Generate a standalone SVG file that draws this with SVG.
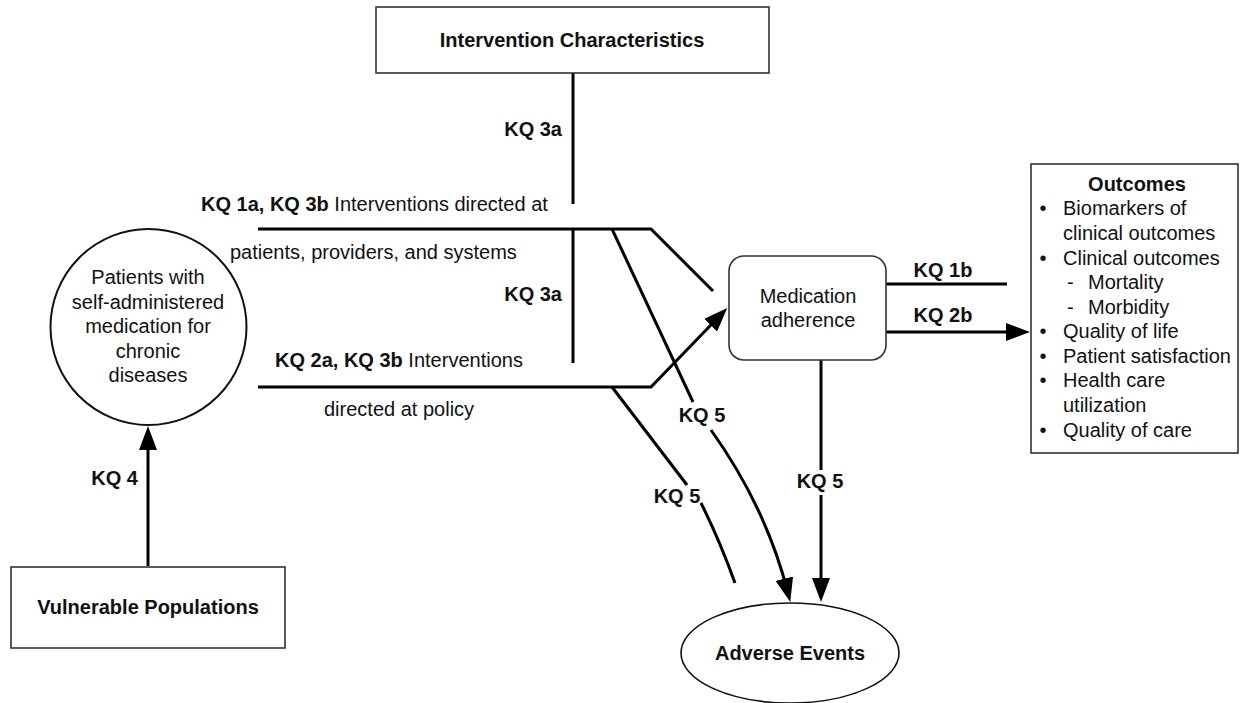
<svg xmlns="http://www.w3.org/2000/svg" width="1243" height="703" viewBox="0 0 1243 703">
<style>
text{font-family:"Liberation Sans",Arial,sans-serif;font-size:20px;fill:#111}
.b{font-weight:bold}
.m{text-anchor:middle}
.e{text-anchor:end}
.box{fill:#fff;stroke:#333;stroke-width:1.6}
.c{fill:none;stroke:#000;stroke-width:3}
.ca{fill:none;stroke:#000;stroke-width:3;marker-end:url(#ah)}
</style>
<defs>
<marker id="ah" viewBox="0 0 24 18" refX="14" refY="9" markerWidth="24" markerHeight="18" markerUnits="userSpaceOnUse" orient="auto">
<path d="M0,0 L24,9 L0,18 z" fill="#000"/>
</marker>
</defs>
<rect width="1243" height="703" fill="#fff"/>
<g id="connectors">
<line class="c" x1="573" y1="73" x2="573" y2="204"/>
<line class="c" x1="573" y1="229" x2="573" y2="363"/>
<polyline class="c" points="258,229 651,229 713,291"/>
<path class="ca" d="M258,387 L651,387 L720.3,315.2"/>
<line class="c" x1="612" y1="229" x2="693" y2="402"/>
<path class="ca" d="M711,430 Q766,507 787.8,592.3"/>
<line class="c" x1="612" y1="387" x2="687" y2="485"/>
<path class="c" d="M701,503 Q719.5,540 735,583"/>
<line class="c" x1="821" y1="360" x2="821" y2="470"/>
<line class="ca" x1="821" y1="495" x2="821" y2="592"/>
<line class="c" x1="886" y1="284" x2="1007" y2="284"/>
<line class="ca" x1="886" y1="332" x2="1020" y2="332"/>
<line class="ca" x1="148" y1="566" x2="148" y2="436"/>
<text class="b e" x="562" y="136">KQ 3a</text>
<text class="b e" x="562" y="301">KQ 3a</text>
<text x="201" y="211"><tspan class="b">KQ 1a, KQ 3b</tspan> Interventions directed at</text>
<text x="230" y="259">patients, providers, and systems</text>
<text x="275" y="367"><tspan class="b">KQ 2a, KQ 3b</tspan> Interventions</text>
<text x="324" y="416">directed at policy</text>
<text class="b m" x="702" y="422">KQ 5</text>
<text class="b m" x="677" y="503">KQ 5</text>
<text class="b m" x="820" y="488">KQ 5</text>
<text class="b m" x="943" y="277">KQ 1b</text>
<text class="b m" x="943" y="322">KQ 2b</text>
<text class="b e" x="138" y="485">KQ 4</text>
</g>
<g id="intervention">
<rect class="box" x="376" y="7" width="393" height="66"/>
<text class="b m" x="572" y="47">Intervention Characteristics</text>
</g>
<g id="patients">
<circle cx="148.5" cy="327" r="98" fill="#fff" stroke="#111" stroke-width="2"/>
<text class="m" x="148" y="284">Patients with</text>
<text class="m" x="148" y="309">self-administered</text>
<text class="m" x="148" y="333">medication for</text>
<text class="m" x="148" y="358">chronic</text>
<text class="m" x="148" y="382">diseases</text>
</g>
<g id="vulnerable">
<rect class="box" x="11" y="567" width="274" height="81"/>
<text class="b m" x="148" y="614">Vulnerable Populations</text>
</g>
<g id="medication">
<rect class="box" x="729" y="256" width="157" height="104" rx="15" ry="15"/>
<text class="m" x="808" y="303">Medication</text>
<text class="m" x="808" y="327">adherence</text>
</g>
<g id="adverse">
<ellipse cx="790" cy="653" rx="109" ry="50" fill="#fff" stroke="#111" stroke-width="1.6"/>
<text class="b m" x="790" y="660">Adverse Events</text>
</g>
<g id="outcomes">
<rect class="box" x="1031" y="164" width="207" height="289"/>
<text class="b m" x="1137" y="191">Outcomes</text>
<text class="m" x="1043" y="215">•</text>
<text x="1063" y="215">Biomarkers of</text>
<text x="1063" y="240">clinical outcomes</text>
<text class="m" x="1043" y="265">•</text>
<text x="1063" y="265">Clinical outcomes</text>
<text x="1067" y="289">-</text>
<text x="1088" y="289">Mortality</text>
<text x="1067" y="314">-</text>
<text x="1088" y="314">Morbidity</text>
<text class="m" x="1043" y="338">•</text>
<text x="1063" y="338">Quality of life</text>
<text class="m" x="1043" y="363">•</text>
<text x="1063" y="363">Patient satisfaction</text>
<text class="m" x="1043" y="387">•</text>
<text x="1063" y="387">Health care</text>
<text x="1063" y="412">utilization</text>
<text class="m" x="1043" y="437">•</text>
<text x="1063" y="437">Quality of care</text>
</g>
</svg>
